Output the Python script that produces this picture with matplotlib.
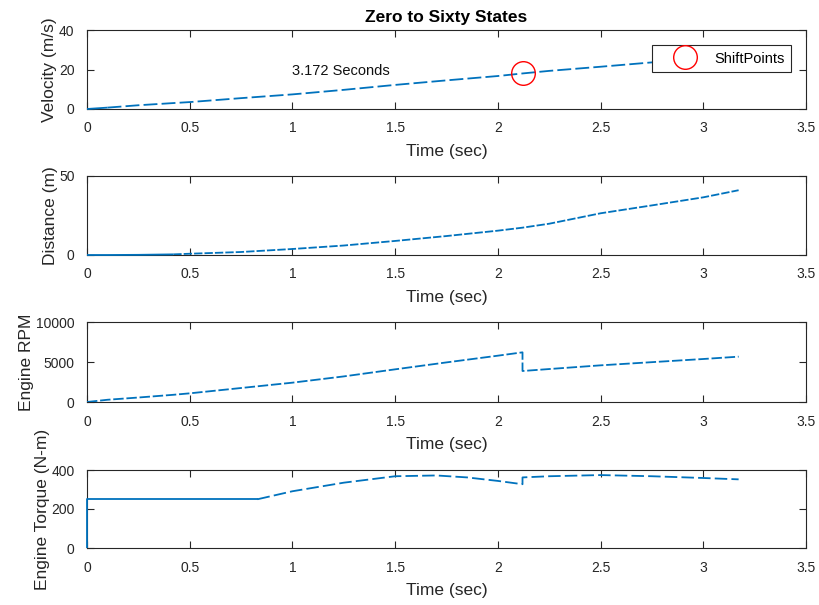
import numpy as np
import matplotlib.pyplot as plt

plt.rcParams['font.family'] = ['Liberation Sans', 'DejaVu Sans']
plt.rcParams['lines.scale_dashes'] = False

# simulation output
time_s = [0.0, 0.1, 0.25, 0.42, 0.5, 0.75, 1.0, 1.25, 1.5, 1.75, 2.0, 2.12,
          2.12, 2.25, 2.5, 2.75, 3.0, 3.172]
velocity = [0.0, 0.7, 1.9, 3.0, 3.5, 5.5, 7.4, 9.7, 12.2, 14.5, 16.7, 18.0,
            18.0, 19.3, 21.4, 23.6, 25.4, 26.8]
distance = [0.0, 0.0, 0.1, 0.4, 0.8, 1.9, 3.8, 6.0, 8.9, 12.0, 15.4, 17.3,
            17.3, 19.8, 26.4, 31.4, 36.5, 41.0]
rpm = [0, 280, 560, 900, 1083, 1750, 2417, 3200, 4083, 4950, 5790, 6208,
       3875, 4120, 4583, 4980, 5375, 5667]

torque_time = [0.0, 0.0, 0.83, 1.0, 1.25, 1.5, 1.7, 1.85, 2.0, 2.12,
               2.12, 2.25, 2.5, 2.75, 3.0, 3.172]
torque = [0, 250, 250, 291, 335, 368, 372, 362, 344, 327,
          362, 368, 374, 368, 359, 352]

shift_time = [2.12]
shift_velocity = [18.0]
zero_to_sixty = 3.172

blue = '#0072BD'
grey = '#262626'
W, H = 820, 605


def place(fig, left, top, right, bottom):
    return fig.add_axes([left / W, 1 - bottom / H, (right - left) / W, (bottom - top) / H])


def style(ax, ylim, yticks, ylabel):
    ax.set_xlim(0, 3.5)
    ax.set_xticks(np.arange(0, 3.51, 0.5))
    ax.set_xticklabels(['0', '0.5', '1', '1.5', '2', '2.5', '3', '3.5'])
    ax.set_ylim(*ylim)
    ax.set_yticks(yticks)
    ax.tick_params(direction='in', top=True, right=True, length=5, width=0.8,
                   colors=grey, labelsize=10)
    ax.tick_params(axis='x', pad=9)
    ax.tick_params(axis='y', pad=9)
    for s in ax.spines.values():
        s.set_color(grey)
        s.set_linewidth(0.8)
    ax.set_xlabel('Time (sec)', fontsize=12.5, color=grey, labelpad=6)
    ax.set_ylabel(ylabel, fontsize=12.5, color=grey, labelpad=1)


def trace(ax, t, y, solid_to, dashes):
    t = np.asarray(t)
    y = np.asarray(y)
    k = np.searchsorted(t, solid_to, side='right')
    ax.plot(t[:k], y[:k], color=blue, lw=1.3, solid_capstyle='butt',
            clip_on=False, zorder=3)
    ax.plot(t[k - 1:], y[k - 1:], color=blue, lw=1.3, dashes=dashes,
            dash_capstyle='butt', zorder=3)


fig = plt.figure(figsize=(W / 100, H / 100), dpi=100)

ax1 = place(fig, 87, 30, 806, 109)
trace(ax1, time_s, velocity, 0.1, (10, 3))
ax1.plot(shift_time, shift_velocity, 'o', ms=17, mfc='none', mec='red', mew=1,
         label='ShiftPoints', zorder=4)
ax1.text(1.0, 19, '%.3f Seconds' % zero_to_sixty, fontsize=10.5, color='#111111',
         va='center', ha='left')
style(ax1, (0, 40), [0, 20, 40], 'Velocity (m/s)')
ax1.set_title('Zero to Sixty States', fontsize=12.5, fontweight='bold', pad=6)
leg = ax1.legend(loc='upper right', bbox_to_anchor=(0.979, 0.81), borderaxespad=0,
                 fancybox=False, framealpha=1, edgecolor=grey, fontsize=10.5,
                 handletextpad=0.2, borderpad=0.45, handlelength=3.6)
leg.get_frame().set_linewidth(0.8)
leg.set_zorder(5)

ax2 = place(fig, 87, 176, 806, 255)
trace(ax2, time_s, distance, 0.42, (6, 1.5))
style(ax2, (0, 50), [0, 50], 'Distance (m)')

ax3 = place(fig, 87, 322, 806, 402)
trace(ax3, time_s, rpm, 0.0, (7.5, 2))
style(ax3, (0, 10000), [0, 5000, 10000], 'Engine RPM')

ax4 = place(fig, 87, 470, 806, 548)
trace(ax4, torque_time, torque, 0.83, (9, 3))
style(ax4, (0, 400), [0, 200, 400], 'Engine Torque (N-m)')

fig.savefig('out.png', dpi=100)
